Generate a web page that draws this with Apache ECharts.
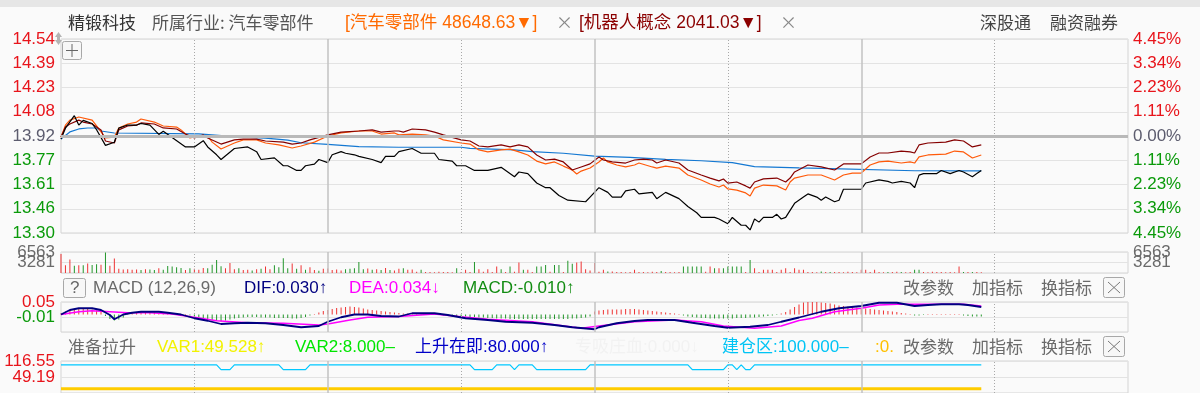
<!DOCTYPE html>
<html><head><meta charset="utf-8">
<script src="https://cdn.jsdelivr.net/npm/echarts@6/dist/echarts.min.js"></script>
<style>html,body{margin:0;padding:0;background:#fafafa;}#c{width:1200px;height:393px;}</style>
</head><body><div id="c"></div>
<script>
// ---------- data ----------
const prevClose = 13.92;
const pctRange = 4.45;
const priceTicks = ['13.30','13.46','13.61','13.77','13.92','14.08','14.23','14.39','14.54'];
const pctTicks = ['4.45%','3.34%','2.23%','1.11%','0.00%','1.11%','2.23%','3.34%','4.45%'];
const volTicks = ['0','3281','6563'];
const volMax = 6563;
const macdTicks = ['-0.07','-0.01','0.05'];
const bottomTicks = ['-18.17','49.19','116.55'];

// [minute, price]
const stockPrice = [[0,13.90],[1,13.97],[3,14.05],[4,13.99],[5,14.02],[7,14.00],[8,13.96],[10,13.86],[12,13.88],[13,13.97],[15,13.99],[17,13.99],[18,14.00],[20,13.99],[22,13.93],[23,13.95],[25,13.91],[28,13.85],[30,13.85],[32,13.89],[33,13.85],[35,13.80],[36,13.77],[39,13.84],[42,13.85],[44,13.82],[45,13.77],[48,13.78],[50,13.73],[51,13.73],[53,13.70],[54,13.70],[55,13.73],[57,13.74],[58,13.77],[60,13.75],[61,13.80],[63,13.82],[64,13.81],[66,13.80],[67,13.79],[70,13.77],[72,13.75],[73,13.79],[75,13.79],[76,13.82],[79,13.84],[81,13.81],[84,13.81],[85,13.77],[88,13.76],[89,13.73],[91,13.73],[93,13.70],[96,13.70],[99,13.72],[102,13.66],[103,13.69],[105,13.68],[107,13.62],[109,13.59],[110,13.59],[112,13.54],[114,13.51],[118,13.50],[119,13.53],[121,13.59],[123,13.56],[124,13.53],[126,13.53],[127,13.57],[129,13.58],[130,13.55],[133,13.56],[134,13.52],[136,13.56],[139,13.52],[141,13.47],[143,13.43],[144,13.40],[145,13.40],[147,13.40],[148,13.39],[150,13.36],[151,13.40],[153,13.35],[154,13.35],[155,13.32],[156,13.39],[157,13.37],[158,13.40],[160,13.40],[161,13.42],[162,13.39],[163,13.40],[165,13.49],[167,13.53],[168,13.55],[170,13.53],[171,13.51],[172,13.53],[174,13.50],[175,13.51],[176,13.58],[180,13.58],[181,13.62],[184,13.64],[186,13.63],[187,13.62],[189,13.63],[191,13.62],[192,13.59],[193,13.67],[194,13.68],[197,13.68],[198,13.70],[200,13.68],[202,13.70],[203,13.69],[205,13.66],[206,13.68],[207,13.70]];
const avgPrice = [[0,13.901],[2,13.946],[4,13.965],[6,13.971],[8,13.971],[9,13.952],[12,13.939],[31,13.933],[39,13.916],[46,13.907],[51,13.894],[54,13.877],[60,13.867],[67,13.852],[76,13.848],[90,13.848],[92,13.841],[102,13.831],[106,13.820],[113,13.810],[120,13.792],[128,13.784],[136,13.771],[144,13.762],[151,13.750],[156,13.724],[166,13.716],[171,13.713],[192,13.698],[207,13.697]];
// [minute, % change]
const autoPartsPct = [[0,-0.05],[1,0.50],[2,0.73],[4,0.87],[7,0.73],[8,0.46],[10,-0.09],[12,-0.05],[13,0.37],[15,0.55],[17,0.64],[18,0.78],[21,0.64],[23,0.46],[26,0.41],[27,0.28],[29,-0.09],[31,0.00],[33,0.00],[34,-0.28],[36,-0.60],[39,-0.32],[41,-0.18],[44,-0.18],[46,-0.32],[49,-0.41],[52,-0.55],[54,-0.46],[57,-0.28],[60,0.00],[63,0.14],[67,0.23],[70,0.23],[72,0.09],[75,0.14],[76,0.05],[79,0.09],[82,0.05],[84,0.00],[86,-0.18],[90,-0.32],[92,-0.37],[94,-0.64],[96,-0.73],[99,-0.64],[101,-0.60],[103,-0.73],[105,-0.87],[107,-1.15],[109,-1.28],[111,-1.19],[113,-1.38],[115,-1.56],[116,-1.74],[117,-1.61],[119,-1.47],[121,-1.19],[122,-1.01],[123,-1.19],[125,-1.33],[127,-1.42],[129,-1.33],[130,-1.24],[133,-1.42],[134,-1.47],[136,-1.38],[139,-1.47],[141,-1.79],[144,-2.02],[146,-2.20],[148,-2.34],[149,-2.25],[150,-2.43],[152,-2.48],[154,-2.61],[155,-2.75],[156,-2.39],[158,-2.25],[161,-2.29],[163,-2.48],[164,-2.11],[165,-1.93],[168,-1.79],[171,-1.79],[174,-2.02],[176,-1.79],[178,-1.70],[180,-1.70],[182,-1.33],[184,-1.19],[186,-1.15],[189,-1.24],[191,-1.19],[192,-1.24],[193,-0.96],[195,-0.87],[199,-0.83],[201,-0.69],[203,-0.73],[205,-1.01],[207,-0.87]];
const robotPct = [[0,-0.05],[1,0.41],[2,0.55],[4,0.73],[5,0.64],[7,0.55],[9,0.28],[10,-0.23],[12,-0.32],[13,0.28],[15,0.46],[17,0.50],[18,0.60],[21,0.55],[23,0.37],[26,0.32],[28,0.09],[30,-0.09],[32,0.05],[33,-0.09],[36,-0.37],[39,-0.18],[41,-0.14],[44,-0.14],[46,-0.23],[50,-0.28],[52,-0.37],[54,-0.32],[56,-0.18],[60,0.05],[63,0.18],[67,0.23],[70,0.28],[72,0.18],[75,0.23],[76,0.23],[77,0.18],[79,0.32],[82,0.28],[84,0.18],[86,0.05],[90,-0.18],[92,-0.23],[94,-0.46],[96,-0.50],[99,-0.41],[101,-0.50],[103,-0.41],[105,-0.50],[107,-0.87],[109,-1.10],[111,-1.06],[113,-1.19],[115,-1.56],[117,-1.42],[119,-1.28],[121,-0.96],[122,-1.10],[124,-1.19],[127,-1.24],[129,-1.10],[131,-1.06],[133,-1.10],[134,-1.24],[136,-1.10],[139,-1.24],[141,-1.56],[144,-1.79],[146,-1.93],[148,-2.06],[149,-1.97],[150,-2.16],[152,-2.11],[154,-2.29],[155,-2.39],[156,-2.11],[158,-1.97],[161,-1.93],[163,-2.11],[164,-1.93],[165,-1.65],[168,-1.33],[171,-1.42],[174,-1.56],[176,-1.28],[180,-1.28],[182,-0.96],[184,-0.78],[186,-0.78],[189,-0.69],[191,-0.73],[192,-0.78],[193,-0.41],[195,-0.32],[199,-0.28],[201,-0.18],[203,-0.23],[205,-0.50],[207,-0.41]];
// per-minute volume, sign = up(+)/down(-) minute
const volume = [
5900,2400,4200,-2300,2400,-2400,3000,-2500,-2700,2600,
-6400,2300,4500,1300,1100,1200,1000,1100,-900,1200,
-1100,-900,1500,-1000,-2200,-2000,-1800,-1600,900,-1500,
1300,1000,1600,-1500,-2600,-4100,-2100,1500,3100,1200,
-1500,900,1000,-800,1200,-1300,2000,1200,-2400,-1800,
-4600,-1500,3000,-1300,2400,-1000,1800,900,-700,1300,
1400,900,1100,800,-1200,-1300,-1500,-3400,-1200,1400,
-1000,1200,-900,1600,-900,800,1300,-1500,1000,1100,
400,-1000,350,300,250,400,300,350,250,-1500,
300,1000,350,-3400,1200,400,1200,300,2000,-1200,
350,-2000,400,3300,-1000,1000,300,-2000,-2000,-2500,
400,-2500,-2500,350,-3800,-2900,3300,3600,1200,800,
3100,400,1000,-500,500,300,350,250,300,1000,
350,300,250,400,300,-600,300,350,250,300,
-2000,-2000,-2000,-2000,-2000,400,2000,-1500,1500,-1500,
-2000,-2000,-2000,-2000,350,-4100,1500,300,1000,1000,
1000,350,1000,1500,300,1500,1000,1000,350,300,
250,-500,300,-300,350,300,250,400,300,250,
1000,1000,300,1000,350,250,-300,300,400,-300,
250,350,-1000,-1000,300,250,400,300,350,250,
300,250,2000,-300,350,-300,300,250];
// per-minute MACD histogram
const macdHist = [
0.004,0.012,0.018,0.022,0.024,0.024,0.022,0.02,0.016,0.01,
-0.006,-0.018,-0.024,-0.02,-0.012,0.004,0.008,0.01,0.01,0.01,
0.008,0.008,0.006,0.006,0.004,0.004,0.002,0.002,0.002,-0.004,
-0.008,-0.012,-0.016,-0.02,-0.024,-0.026,-0.028,-0.024,-0.02,-0.016,
-0.014,-0.012,-0.01,-0.01,-0.01,-0.012,-0.012,-0.012,-0.014,-0.014,
-0.014,-0.014,-0.016,-0.016,-0.014,-0.01,-0.004,0.002,0.008,0.014,
0.018,0.022,0.026,0.028,0.03,0.032,0.03,0.028,0.024,0.02,
0.018,0.016,0.014,0.012,0.01,0.008,0.006,0.004,0.004,0.002,
0.002,0.002,-0.002,0.002,-0.002,-0.002,-0.004,-0.004,-0.006,-0.006,
-0.008,-0.008,-0.01,-0.01,-0.012,-0.012,-0.014,-0.014,-0.016,-0.016,
-0.016,-0.018,-0.018,-0.018,-0.018,-0.018,-0.018,-0.018,-0.018,-0.018,
-0.018,-0.018,-0.018,-0.018,-0.018,-0.016,-0.016,-0.014,-0.012,-0.008,
0.012,0.016,0.018,0.02,0.02,0.02,0.02,0.022,0.022,0.022,
0.02,0.018,0.016,0.014,0.012,0.01,0.008,0.006,0.004,0.002,
-0.004,-0.008,-0.01,-0.012,-0.014,-0.014,-0.016,-0.016,-0.016,-0.016,
-0.016,-0.016,-0.014,-0.014,-0.014,-0.012,-0.012,-0.01,-0.008,-0.006,
-0.004,-0.002,0.004,0.01,0.02,0.03,0.04,0.048,0.05,0.05,
0.05,0.048,0.046,0.044,0.04,0.036,0.034,0.032,0.03,0.028,
0.026,0.024,0.022,0.02,0.018,0.016,0.014,0.012,0.01,0.006,
0.004,0.002,-0.004,-0.004,-0.002,0.002,0.002,0.002,0.002,0.002,
0.002,0.002,0.002,-0.004,-0.006,-0.008,-0.008,-0.008];
const dif = [[0,0.000],[2,0.018],[4,0.025],[7,0.025],[9,0.018],[11,-0.002],[12,-0.019],[14,0.000],[16,0.007],[18,0.011],[22,0.011],[24,0.007],[27,0.000],[30,-0.015],[33,-0.025],[36,-0.038],[39,-0.035],[42,-0.033],[46,-0.035],[50,-0.042],[54,-0.051],[58,-0.046],[60,-0.029],[63,-0.011],[66,0.000],[69,0.000],[72,-0.006],[76,-0.008],[79,0.005],[84,0.005],[87,-0.002],[91,-0.015],[96,-0.022],[100,-0.029],[106,-0.033],[111,-0.042],[115,-0.051],[120,-0.059],[121,-0.051],[125,-0.035],[129,-0.026],[132,-0.022],[138,-0.022],[142,-0.033],[147,-0.046],[150,-0.053],[155,-0.049],[159,-0.042],[162,-0.029],[166,-0.012],[171,0.011],[175,0.025],[180,0.034],[184,0.047],[188,0.047],[192,0.034],[195,0.038],[198,0.041],[202,0.041],[204,0.038],[207,0.030]];
const dea = [[0,0.000],[4,0.011],[7,0.015],[11,0.011],[15,0.007],[20,0.007],[25,0.002],[30,-0.011],[35,-0.025],[42,-0.033],[50,-0.035],[58,-0.042],[60,-0.038],[65,-0.022],[69,-0.011],[76,-0.008],[84,0.002],[90,-0.009],[96,-0.019],[106,-0.029],[117,-0.055],[121,-0.046],[129,-0.029],[138,-0.022],[144,-0.029],[149,-0.046],[156,-0.055],[162,-0.046],[166,-0.024],[169,-0.015],[174,0.011],[180,0.025],[184,0.038],[188,0.041],[196,0.041],[203,0.041],[207,0.034]];
const buildZone = [[0,100],[35,100],[36,80],[38,80],[39,100],[49,100],[50,80],[55,80],[56,100],[92,100],[93,80],[97,80],[98,100],[101,100],[102,80],[103,100],[106,100],[107,80],[118,80],[119,100],[141,100],[142,80],[149,80],[150,100],[151,100],[152,80],[153,100],[154,80],[155,80],[156,100],[207,100]];
const goldLine = [[0,0],[207,0]];

// ---------- chart ----------
const NUM = '"Liberation Sans", "Noto Sans CJK SC", sans-serif';
const CJK = '"Noto Sans CJK SC", "Liberation Sans", sans-serif';
const RED = '#e8141b', GREEN = '#0a9a0a', GRAY = '#5c5c6e';
const BAR_RED = '#ee3333', BAR_GREEN = '#22962a';
const yMin = prevClose * (1 - pctRange / 100), yMax = prevClose * (1 + pctRange / 100), yInt = (yMax - yMin) / 8;
const toPrice = p => prevClose * (1 + p / 100);
const mIdx = v => Math.round((v - yMin) / yInt);

function vLineData() {
  const d = [];
  for (let m = 30; m < 240; m += 30) {
    const hour = m % 60 === 0;
    d.push({ xAxis: m, lineStyle: { type: hour ? 'solid' : [1, 2], color: hour ? '#c2c2c2' : '#a8a8a8', width: hour ? 1.5 : 1 } });
  }
  return d;
}
function markLines(extra) {
  return { symbol: ['none', 'none'], silent: true, label: { show: false }, animation: false, data: vLineData().concat(extra || []) };
}

const gridBase = { left: 61, right: 72, show: true, borderColor: '#d4d4d4', borderWidth: 1, backgroundColor: 'transparent' };
const grids = [
  Object.assign({ top: 39, height: 194 }, gridBase),
  Object.assign({ top: 252, height: 21 }, gridBase),
  Object.assign({ top: 302, height: 30 }, gridBase),
  Object.assign({ top: 361, height: 32 }, gridBase)
];
const xAxes = [0, 1, 2, 3].map(i => ({ type: 'value', gridIndex: i, min: 0, max: 240, show: false }));
const lblBase = { fontSize: 17, fontFamily: NUM, showMinLabel: true, showMaxLabel: true, hideOverlap: false };
const splitL = { show: true, lineStyle: { color: '#e3e3e3', width: 1 } };
const noAx = { axisLine: { show: false }, axisTick: { show: false } };

const vMin0 = parseFloat(macdTicks[0]), vMax0 = parseFloat(macdTicks[2]);
const bMin = parseFloat(bottomTicks[0]), bMax = parseFloat(bottomTicks[2]);

// a small panel has 3 ticks (min, mid, max); mid & max labels sit close together,
// so each is drawn by its own axis (same scale) to keep both visible
function panelAxes(gi, pos, min, max, ticks, colorFn, margin, withSplit) {
  const step = (max - min) / 2;
  const idx = v => Math.round((v - min) / step);
  const mk = (which, split) => Object.assign({
    type: 'value', gridIndex: gi, position: pos, min: min, max: max, interval: step,
    splitLine: split ? splitL : { show: false },
    axisLabel: Object.assign({}, lblBase, { margin: margin, showMinLabel: false,
      formatter: v => (idx(v) === which ? ticks[which] : ''), color: colorFn })
  }, noAx);
  return [mk(1, withSplit), mk(2, false)];
}

const yAxes = [
  Object.assign({ type: 'value', gridIndex: 0, position: 'left', min: yMin, max: yMax, interval: yInt, splitLine: splitL,
    axisLabel: Object.assign({}, lblBase, { margin: 6, formatter: v => priceTicks[mIdx(v)], color: v => { const i = mIdx(v); return i > 4 ? RED : (i < 4 ? GREEN : GRAY); } }) }, noAx),
  Object.assign({ type: 'value', gridIndex: 0, position: 'right', min: yMin, max: yMax, interval: yInt, splitLine: { show: false },
    axisLabel: Object.assign({}, lblBase, { margin: 5, formatter: v => pctTicks[mIdx(v)], color: v => { const i = mIdx(v); return i > 4 ? RED : (i < 4 ? GREEN : GRAY); } }) }, noAx)
].concat(
  panelAxes(1, 'left', 0, volMax, volTicks, () => '#6a6a6a', 6, true),      // 2,3
  panelAxes(1, 'right', 0, volMax, volTicks, () => '#6a6a6a', 5, false),    // 4,5
  panelAxes(2, 'left', vMin0, vMax0, macdTicks, v => (v > 0 ? RED : GREEN), 6, true), // 6,7
  panelAxes(3, 'left', bMin, bMax, bottomTicks, () => RED, 6, true)         // 8,9
);

function lineS(data, color, width, xi, yi, extra) {
  return Object.assign({ type: 'line', xAxisIndex: xi, yAxisIndex: yi, data: data, symbol: 'none', showSymbol: false,
    lineStyle: { color: color, width: width }, animation: false, silent: true }, extra || {});
}

const series = [
  lineS(avgPrice, '#1478d2', 1.2, 0, 0, { markLine: markLines([{ yAxis: prevClose, lineStyle: { color: '#b9b9b9', width: 3, type: 'solid' } }]) }),
  lineS(autoPartsPct.map(d => [d[0], toPrice(d[1])]), '#ff5a0a', 1.2, 0, 0),
  lineS(robotPct.map(d => [d[0], toPrice(d[1])]), '#850000', 1.2, 0, 0),
  lineS(stockPrice, '#000000', 1.2, 0, 0),
  { type: 'bar', xAxisIndex: 1, yAxisIndex: 2, barWidth: 1, animation: false, silent: true,
    data: volume.map((v, i) => ({ value: [i, Math.abs(v)], itemStyle: { color: v >= 0 ? BAR_RED : BAR_GREEN } })),
    markLine: markLines() },
  { type: 'bar', xAxisIndex: 2, yAxisIndex: 6, barWidth: 1, animation: false, silent: true,
    data: macdHist.map((v, i) => ({ value: [i, v], itemStyle: { color: v >= 0 ? BAR_RED : BAR_GREEN } })),
    markLine: markLines() },
  lineS(dea, '#ff00ff', 1.5, 2, 6),
  lineS(dif, '#000080', 1.8, 2, 6),
  lineS(buildZone, '#00c8ff', 1.2, 3, 8, { markLine: markLines() }),
  lineS(goldLine, '#ffcc00', 3, 3, 8)
];

// ---------- header / decoration text ----------
const G = [];
function T(text, x, y, color, fam, size) {
  G.push({ type: 'text', x: x, y: y, z: 50, silent: true,
    style: { text: text, fill: color, fontSize: size || 17, fontFamily: fam || CJK, verticalAlign: 'middle', align: 'left' } });
}
function box(x, y, w, h) {
  G.push({ type: 'rect', z: 50, silent: true, shape: { x: x + 0.5, y: y + 0.5, width: w, height: h, r: 2 }, style: { fill: '#f7f7f7', stroke: '#a8a8a8', lineWidth: 1 } });
}
function closeBox(x, y) {
  box(x, y, 21, 20);
  G.push({ type: 'line', z: 51, silent: true, shape: { x1: x + 5, y1: y + 5, x2: x + 17, y2: y + 16 }, style: { stroke: '#777', lineWidth: 1 } });
  G.push({ type: 'line', z: 51, silent: true, shape: { x1: x + 17, y1: y + 5, x2: x + 5, y2: y + 16 }, style: { stroke: '#777', lineWidth: 1 } });
}
G.push({ type: 'rect', z: 40, silent: true, shape: { x: 0, y: 0, width: 1200, height: 7 }, style: { fill: '#e6e6e6' } });
T('精锻科技', 68, 23, '#333333');
T('所属行业: 汽车零部件', 152, 23, '#555555');
T('[汽车零部件 48648.63▼]', 345, 23, '#ff6a00', NUM, 17.5);
T('×', 556, 23, '#888888');
T('[机器人概念 2041.03▼]', 579, 23, '#8b0000', NUM, 17.5);
T('×', 780, 23, '#888888');
T('深股通', 980, 23, '#444444');
T('融资融券', 1050, 23, '#444444');
// small icons at top-left of main panel
G.push({ type: 'polygon', z: 50, silent: true, shape: { points: [[58.5, 32], [55, 37], [62, 37]] }, style: { fill: '#b4b4b4' } });
G.push({ type: 'polygon', z: 50, silent: true, shape: { points: [[55, 40], [62, 40], [58.5, 45]] }, style: { fill: '#b4b4b4' } });
G.push({ type: 'rect', z: 50, silent: true, shape: { x: 57, y: 36, width: 3, height: 5 }, style: { fill: '#b4b4b4' } });
box(62, 41, 19, 18);
G.push({ type: 'line', z: 51, silent: true, shape: { x1: 66, y1: 50.5, x2: 78, y2: 50.5 }, style: { stroke: '#666', lineWidth: 1 } });
G.push({ type: 'line', z: 51, silent: true, shape: { x1: 72, y1: 44, x2: 72, y2: 57 }, style: { stroke: '#666', lineWidth: 1 } });
// MACD header
box(63, 278, 22, 19);
T('?', 70, 288, '#666666', NUM);
T('MACD (12,26,9)', 93, 288, '#6a6a6a', NUM);
T('DIF:0.030↑', 244, 288, '#000080', NUM);
T('DEA:0.034↓', 349, 288, '#ff00ff', NUM);
T('MACD:-0.010↑', 463, 288, '#128c12', NUM);
T('改参数', 903, 288, '#6a6a6a');
T('加指标', 972, 288, '#6a6a6a');
T('换指标', 1041, 288, '#6a6a6a');
closeBox(1103, 277);
// indicator header
T('准备拉升', 68, 347, '#6a6a6a');
T('VAR1:49.528↑', 157, 347, '#f2f200', NUM);
T('VAR2:8.000–', 295, 347, '#00e600', NUM);
T('上升在即:80.000↑', 415, 347, '#0000c8', NUM);
T('专吸庄血:0.000↓', 575, 347, '#f2f2f2', NUM);
T('建仓区:100.000–', 722, 347, '#00c4f5', NUM);
T(':0.', 875, 347, '#ffc000', NUM);
T('改参数', 903, 347, '#6a6a6a');
T('加指标', 972, 347, '#6a6a6a');
T('换指标', 1041, 347, '#6a6a6a');
closeBox(1103, 336);

const chart = echarts.init(document.getElementById('c'), null, { renderer: 'canvas' });
chart.setOption({
  backgroundColor: '#fafafa',
  animation: false,
  grid: grids,
  xAxis: xAxes,
  yAxis: yAxes,
  series: series,
  graphic: G
});
</script></body></html>
